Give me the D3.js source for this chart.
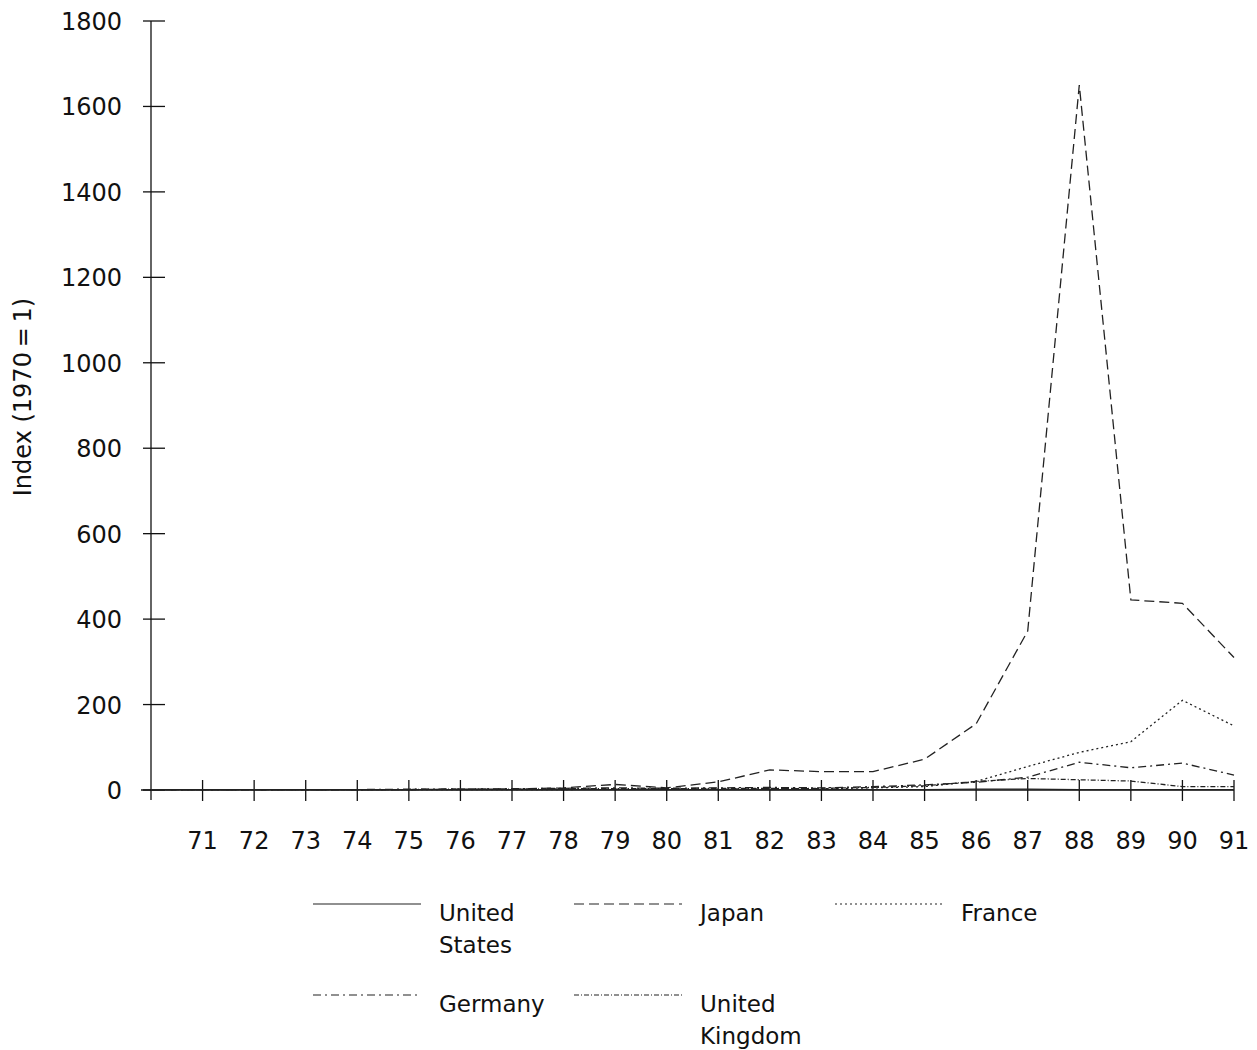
<!DOCTYPE html>
<html>
<head>
<meta charset="utf-8">
<script src="https://cdn.jsdelivr.net/npm/d3@7"></script>
<style>
  body { margin: 0; background: #fff; }
  text { font-family: "DejaVu Sans", sans-serif; fill: #111; }
</style>
</head>
<body>
<script>
// data
var years = d3.range(1970, 1992);
var unitedStates = [1, 1, 1, 1, 1, 1, 1, 1, 1, 1, 1, 1, 1, 1, 1, 1, 2, 2, 1, 1, 1, 1];
var japan = [1, 1, 1, 1, 1, 1, 2, 2, 5, 13, 5, 19, 47, 43, 43, 72, 155, 372, 1650, 445, 437, 310];
var france = [1, 1, 1, 1, 1, 1, 1, 1, 1, 2, 2, 2, 3, 3, 5, 8, 20, 55, 88, 113, 210, 150];
var germany = [1, 1, 1, 1, 1, 2, 2, 3, 4, 5, 4, 5, 6, 5, 8, 12, 18, 30, 65, 52, 63, 35];
var unitedKingdom = [1, 1, 1, 1, 1, 1, 2, 2, 3, 3, 3, 4, 4, 4, 6, 10, 20, 27, 24, 21, 8, 8];
var yTicks = [0, 200, 400, 600, 800, 1000, 1200, 1400, 1600, 1800];

var series = [
  {name: ["United", "States"], values: unitedStates, dash: null},
  {name: ["Japan"], values: japan, dash: "10,5"},
  {name: ["France"], values: france, dash: "2,3"},
  {name: ["Germany"], values: germany, dash: "8,4,2,4"},
  {name: ["United", "Kingdom"], values: unitedKingdom, dash: "5,2,1,2"}
];

var w = 1257, h = 1050;
var svg = d3.select("body").append("svg")
  .attr("width", w)
  .attr("height", h);

var x = d3.scaleLinear().domain([1970, 1991]).range([151, 1234]);
var y = d3.scaleLinear().domain([0, 1800]).range([790, 21]);

// x axis
svg.append("line")
  .attr("x1", 141).attr("x2", x(1991))
  .attr("y1", y(0)).attr("y2", y(0))
  .attr("stroke", "#111").attr("stroke-width", 1.4);

svg.selectAll(".xtick")
  .data(years.slice(1))
  .enter()
  .append("line")
  .attr("x1", function(d) { return x(d); })
  .attr("x2", function(d) { return x(d); })
  .attr("y1", y(0) - 10)
  .attr("y2", y(0) + 11)
  .attr("stroke", "#111").attr("stroke-width", 1.3);

svg.selectAll(".xlab")
  .data(years.slice(1))
  .enter()
  .append("text")
  .attr("x", function(d) { return x(d); })
  .attr("y", 849)
  .attr("text-anchor", "middle")
  .attr("font-size", "24px")
  .text(function(d) { return String(d).slice(2); });

// y axis
svg.append("line")
  .attr("x1", x(1970)).attr("x2", x(1970))
  .attr("y1", y(1800)).attr("y2", y(0) + 10)
  .attr("stroke", "#111").attr("stroke-width", 1.3);

svg.selectAll(".ytick")
  .data(yTicks)
  .enter()
  .append("line")
  .attr("x1", x(1970) - 8)
  .attr("x2", x(1970) + 14)
  .attr("y1", function(d) { return y(d); })
  .attr("y2", function(d) { return y(d); })
  .attr("stroke", "#111").attr("stroke-width", 1.3);

svg.selectAll(".ylab")
  .data(yTicks)
  .enter()
  .append("text")
  .attr("x", 122)
  .attr("y", function(d) { return y(d) + 9; })
  .attr("text-anchor", "end")
  .attr("font-size", "24px")
  .text(function(d) { return d; });

svg.append("text")
  .attr("transform", "translate(31,397) rotate(-90)")
  .attr("text-anchor", "middle")
  .attr("font-size", "24px")
  .text("Index (1970\u2009=\u20091)");

// lines
var line = d3.line()
  .x(function(d, i) { return x(years[i]); })
  .y(function(d) { return y(d); });

svg.selectAll(".series")
  .data(series)
  .enter()
  .append("path")
  .attr("d", function(d) { return line(d.values); })
  .attr("fill", "none")
  .attr("stroke", "#222")
  .attr("stroke-width", 1.3)
  .attr("stroke-dasharray", function(d) { return d.dash; });

// legend (position = text baseline)
var legendPos = [[313, 921], [574, 921], [835, 921], [313, 1012], [574, 1012]];

var leg = svg.selectAll(".legend")
  .data(series)
  .enter()
  .append("g")
  .attr("transform", function(d, i) { return "translate(" + legendPos[i][0] + "," + legendPos[i][1] + ")"; });

leg.append("line")
  .attr("x1", 0).attr("x2", 108)
  .attr("y1", -17).attr("y2", -17)
  .attr("stroke", "#222")
  .attr("stroke-width", 1.2)
  .attr("stroke-dasharray", function(d) { return d.dash; });

leg.each(function(d) {
  var t = d3.select(this).append("text")
    .attr("x", 126)
    .attr("y", 0)
    .attr("font-size", "23px");
  d.name.forEach(function(s, k) {
    t.append("tspan").attr("x", 126).attr("dy", k === 0 ? 0 : 32).text(s);
  });
});
</script>
</body>
</html>
